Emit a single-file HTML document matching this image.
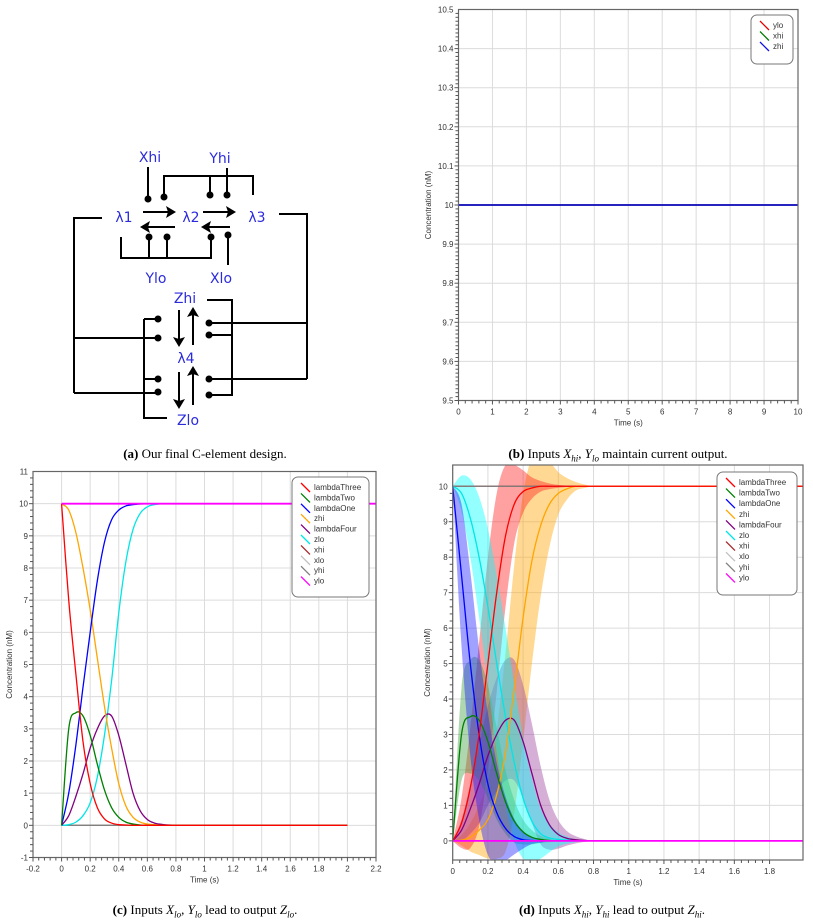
<!DOCTYPE html>
<html><head><meta charset="utf-8">
<style>
html,body{margin:0;padding:0;background:#fff;}
body{width:813px;height:919px;position:relative;overflow:hidden;font-family:"Liberation Sans",sans-serif;}
svg{position:absolute;left:0;top:0;}
.cap{position:absolute;font-family:"Liberation Serif",serif;font-size:13px;color:#000;white-space:nowrap;transform:translateX(-50%);}
</style></head>
<body>
<svg id="root" width="813" height="919" viewBox="0 0 813 919">
<g id="diagram" stroke="#000" stroke-width="2" fill="none">
  <path d="M148,167V198"/>
  <path d="M164,197V176H253V195"/>
  <path d="M210,176V195"/>
  <path d="M227,168V195"/>
  <path d="M121,237V258H211V237"/>
  <path d="M149,237V258M167,237V258"/>
  <path d="M228,237V265"/>
  <path d="M102,218H74V393"/>
  <path d="M279,214H307V379"/>
  <path d="M74,338H158M74,393H158"/>
  <path d="M144,319H158M144,319V418H167M144,379H158"/>
  <path d="M207,300H232V395H209M209,335H232"/>
  <path d="M209,323H307M209,379H307"/>
  <path d="M143,212H170M175,227H146M203,212H230M230,227H207"/>
  <path d="M179,310V340M193,345V313M179,372V402M193,405V372"/>
  <g fill="#000" stroke="none">
    <path d="M176,212L166,206L168,212L166,218Z"/>
    <path d="M140,227L150,221L148,227L150,233Z"/>
    <path d="M236,212L226,206L228,212L226,218Z"/>
    <path d="M201,227L211,221L209,227L211,233Z"/>
    <path d="M179,347L173,337L179,339L185,337Z"/>
    <path d="M193,307L187,317L193,315L199,317Z"/>
    <path d="M179,409L173,399L179,401L185,399Z"/>
    <path d="M193,366L187,376L193,374L199,376Z"/>
    <circle cx="148" cy="199" r="3.5"/><circle cx="164" cy="197" r="3.5"/>
    <circle cx="210" cy="195" r="3.5"/><circle cx="227" cy="195" r="3.5"/>
    <circle cx="149" cy="237" r="3.5"/><circle cx="167" cy="237" r="3.5"/>
    <circle cx="211" cy="237" r="3.5"/><circle cx="228" cy="235" r="3.5"/>
    <circle cx="158" cy="319" r="3.5"/><circle cx="158" cy="338" r="3.5"/>
    <circle cx="158" cy="379" r="3.5"/><circle cx="158" cy="392" r="3.5"/>
    <circle cx="209" cy="323" r="3.5"/><circle cx="209" cy="335" r="3.5"/>
    <circle cx="209" cy="379" r="3.5"/><circle cx="209" cy="395" r="3.5"/>
  </g>
  <g fill="#2b2bdc" stroke="none" font-family="'DejaVu Sans',sans-serif" font-size="14" text-anchor="middle">
    <text x="150" y="162">Xhi</text>
    <text x="220" y="163">Yhi</text>
    <text x="124" y="222">λ1</text>
    <text x="191" y="222">λ2</text>
    <text x="257" y="222">λ3</text>
    <text x="156" y="283">Ylo</text>
    <text x="221" y="283">Xlo</text>
    <text x="185" y="303">Zhi</text>
    <text x="186" y="363">λ4</text>
    <text x="188" y="425">Zlo</text>
  </g>
</g>
</svg>
<div class="cap" style="left:205px;top:446px"><b>(a)</b> Our final C-element design.</div>
<div class="cap" style="left:618px;top:446px"><b>(b)</b> Inputs <i>X<sub style="font-size:9px">hi</sub></i>, <i>Y<sub style="font-size:9px">lo</sub></i> maintain current output.</div>
<div class="cap" style="left:205px;top:902px"><b>(c)</b> Inputs <i>X<sub style="font-size:9px">lo</sub></i>, <i>Y<sub style="font-size:9px">lo</sub></i> lead to output <i>Z<sub style="font-size:9px">lo</sub></i>.</div>
<div class="cap" style="left:612px;top:902px"><b>(d)</b> Inputs <i>X<sub style="font-size:9px">hi</sub></i>, <i>Y<sub style="font-size:9px">hi</sub></i> lead to output <i>Z<sub style="font-size:9px">hi</sub></i>.</div>
<script>
// ---------- data ----------
const bTime = [0, 10];
const bYlo = [10, 10];
const bXhi = [10, 10];
const bZhi = [10, 10];
const bXTicks = [0,1,2,3,4,5,6,7,8,9,10];
const bYTicks = [9.5,9.6,9.7,9.8,9.9,10,10.1,10.2,10.3,10.4,10.5];

const cTime = [0,0.05,0.1,0.15,0.2,0.25,0.3,0.35,0.4,0.45,0.5,0.55,0.6,0.65,0.7,0.75,0.8,0.9,2];
const cLambdaThree = [10,7.0,4.7,2.6,1.3,0.55,0.2,0.07,0.02,0.01,0,0,0,0,0,0,0,0,0];
const cLambdaTwo = [0,3.0,3.5,3.4,2.8,1.9,1.1,0.55,0.25,0.1,0.04,0.01,0,0,0,0,0,0,0];
const cLambdaOne = [0,1.0,2.5,4.3,6.0,7.6,8.8,9.5,9.8,9.93,9.97,9.99,10,10,10,10,10,10,10];
const cZhi = [10,9.8,9.1,8.0,6.7,5.2,3.7,2.4,1.3,0.6,0.25,0.1,0.04,0.02,0,0,0,0,0];
const cLambdaFour = [0,0.3,0.9,1.6,2.4,3.0,3.4,3.4,2.8,1.9,1.0,0.45,0.18,0.07,0.03,0.01,0,0,0];
const cZlo = [0,0.02,0.1,0.3,0.7,1.5,2.8,4.5,6.6,8.2,9.2,9.7,9.9,9.97,10,10,10,10,10];
const cXhi = [0,0]; const cXlo = [0,0]; const cYhi = [0,0]; const cYlo = [10,10];
const cFlatTime = [0,2]; const cYloTime = [0,2.2];
const cXTicks = [-0.2,0,0.2,0.4,0.6,0.8,1,1.2,1.4,1.6,1.8,2,2.2];
const cYTicks = [-1,0,1,2,3,4,5,6,7,8,9,10,11];

const dTime = [0,0.05,0.1,0.15,0.2,0.25,0.3,0.35,0.4,0.45,0.5,0.55,0.6,0.65,0.7,0.75,0.8,0.9,2];
const dLambdaThree = [0,0.5,1.5,3.0,5.0,7.0,8.6,9.5,9.85,9.95,10,10,10,10,10,10,10,10,10];
const dLambdaThreeSpread = [0,0.7,1.7,2.6,3.0,2.8,2.0,1.1,0.6,0.3,0.15,0.08,0.04,0.02,0,0,0,0,0];
const dLambdaTwo = [0,3.0,3.5,3.4,2.8,1.9,1.1,0.55,0.25,0.1,0.04,0.01,0,0,0,0,0,0,0];
const dLambdaTwoSpread = [0,1.3,1.6,1.7,1.6,1.3,0.9,0.6,0.35,0.2,0.1,0.05,0,0,0,0,0,0,0];
const dLambdaOne = [10,7.5,5.0,3.0,1.6,0.8,0.35,0.12,0.03,0.01,0,0,0,0,0,0,0,0,0];
const dLambdaOneSpread = [0,2.0,2.6,2.4,2.0,1.4,0.9,0.5,0.25,0.1,0.05,0,0,0,0,0,0,0,0];
const dZhi = [0,0.02,0.1,0.3,0.6,1.3,2.5,4.3,6.3,7.9,8.9,9.5,9.8,9.93,10,10,10,10,10];
const dZhiSpread = [0,0.15,0.4,0.7,1.1,1.8,2.8,3.5,3.5,2.9,2.0,1.2,0.6,0.3,0.12,0.05,0,0,0];
const dLambdaFour = [0,0.3,0.9,1.6,2.4,3.0,3.4,3.4,2.8,1.9,1.0,0.45,0.18,0.07,0.03,0.01,0,0,0];
const dLambdaFourSpread = [0,0.3,0.7,1.1,1.4,1.6,1.7,1.7,1.6,1.4,1.1,0.7,0.4,0.2,0.1,0.04,0,0,0];
const dZlo = [10,9.8,9.1,8.0,6.6,5.0,3.5,2.2,1.2,0.55,0.2,0.08,0.04,0.02,0,0,0,0,0];
const dZloSpread = [0,0.5,1.1,1.7,2.2,2.5,2.5,2.2,1.7,1.2,0.7,0.4,0.2,0.1,0.04,0,0,0,0];
const dXhi = [10,10]; const dXlo = [10,10]; const dYhi = [0,0]; const dYlo = [0,0];
const dFlatTime = [0,2];
const dXTicks = [0,0.2,0.4,0.6,0.8,1,1.2,1.4,1.6,1.8];
const dYTicks = [0,1,2,3,4,5,6,7,8,9,10];

// ---------- helpers ----------
const NS = 'http://www.w3.org/2000/svg';
const root = document.getElementById('root');
function mk(tag, attrs, parent){
  const e = document.createElementNS(NS, tag);
  for (const k in attrs) e.setAttribute(k, attrs[k]);
  (parent||root).appendChild(e);
  return e;
}
function smoothPath(pts){
  if (pts.length < 3) return 'M' + pts.map(p=>p[0].toFixed(2)+','+p[1].toFixed(2)).join('L');
  let d = 'M' + pts[0][0].toFixed(2) + ',' + pts[0][1].toFixed(2);
  for (let i=0;i<pts.length-1;i++){
    const p0 = pts[Math.max(0,i-1)], p1 = pts[i], p2 = pts[i+1], p3 = pts[Math.min(pts.length-1,i+2)];
    const c1x = p1[0] + (p2[0]-p0[0])/6, c1y = p1[1] + (p2[1]-p0[1])/6;
    const c2x = p2[0] - (p3[0]-p1[0])/6, c2y = p2[1] - (p3[1]-p1[1])/6;
    d += 'C'+c1x.toFixed(2)+','+c1y.toFixed(2)+' '+c2x.toFixed(2)+','+c2y.toFixed(2)+' '+p2[0].toFixed(2)+','+p2[1].toFixed(2);
  }
  return d;
}
function makeChart(cfg){
  const g = mk('g', {});
  
  
  const sx = v => cfg.L + (v - cfg.xmin) / (cfg.xmax - cfg.xmin) * (cfg.R - cfg.L);
  const sy = v => cfg.B - (v - cfg.ymin) / (cfg.ymax - cfg.ymin) * (cfg.B - cfg.T);
  cfg.xTicks.forEach(v=>{
    const l = mk('line',{x1:sx(v),x2:sx(v),y1:cfg.T,y2:cfg.B,stroke:'#dcdcdc','stroke-width':1},g);
    
    
  });
  cfg.yTicks.forEach(v=>{
    const l = mk('line',{x1:cfg.L,x2:cfg.R,y1:sy(v),y2:sy(v),stroke:'#dcdcdc','stroke-width':1},g);
    
    
  });
  const cid = cfg.name + '-clip';
  const defs = mk('defs',{},g);
  const cp = mk('clipPath',{id:cid},defs);
  mk('rect',{x:cfg.L,y:cfg.T,width:cfg.R-cfg.L,height:cfg.B-cfg.T},cp);
  const plot = mk('g',{'clip-path':'url(#'+cid+')'},g);
  
  
  (cfg.bands||[]).forEach(b=>{
    const up = b.t.map((t,i)=>[sx(t), sy(b.v[i]+b.s[i])]);
    const lo = b.t.map((t,i)=>[sx(t), sy(b.v[i]-b.s[i])]).reverse();
    let d = smoothPath(up) + 'L' + smoothPath(lo).slice(1) + 'Z';
    const p = mk('path',{d:d,fill:b.color,'fill-opacity':0.42,stroke:'none'},plot);
    
    
  });
  cfg.series.forEach(s=>{
    const pts = s.t.map((t,i)=>[sx(t), sy(s.v[i])]);
    const p = mk('path',{d:smoothPath(pts),fill:'none',stroke:s.color,'stroke-width':s.w||1.3},plot);
    
    
  });
  const fr = mk('rect',{x:cfg.L,y:cfg.T,width:cfg.R-cfg.L,height:cfg.B-cfg.T,fill:'none',stroke:'#666','stroke-width':1.2},g);
  
  
  const xm = cfg.xTicks, ym = cfg.yTicks;
  const nx = 5, ny = cfg.yMinor || 5;
  for (let i=0;i<xm.length-1;i++) for (let k=0;k<nx;k++){
    const v = xm[i] + (xm[i+1]-xm[i])*k/nx;
    mk('line',{x1:sx(v),x2:sx(v),y1:cfg.B,y2:cfg.B+(k==0?4:3),stroke:'#555','stroke-width':1},g);
  }
  mk('line',{x1:sx(xm[xm.length-1]),x2:sx(xm[xm.length-1]),y1:cfg.B,y2:cfg.B+4,stroke:'#555'},g);
  for (let i=0;i<ym.length-1;i++) for (let k=0;k<ny;k++){
    const v = ym[i] + (ym[i+1]-ym[i])*k/ny;
    mk('line',{x1:cfg.L-(k==0?4:3),x2:cfg.L,y1:sy(v),y2:sy(v),stroke:'#555','stroke-width':1},g);
  }
  xm.forEach(v=>{
    const t = mk('text',{x:sx(v),y:cfg.B+14,'font-size':8,'text-anchor':'middle',fill:'#333'},g);
    t.textContent = String(v);
    
    
  });
  ym.forEach(v=>{
    const t = mk('text',{x:cfg.L-5,y:sy(v)+3,'font-size':8,'text-anchor':'end',fill:'#333'},g);
    t.textContent = String(v);
    
    
  });
  const xt = mk('text',{x:(cfg.L+cfg.R)/2,y:cfg.B+25,'font-size':8,'text-anchor':'middle',fill:'#333'},g);
  xt.textContent = 'Time (s)';
  
  
  const yx = cfg.yTitleX, yy = (cfg.T+cfg.B)/2;
  const yt = mk('text',{x:yx,y:yy,'font-size':8,'text-anchor':'middle',fill:'#333',transform:'rotate(-90 '+yx+' '+yy+')'},g);
  yt.textContent = 'Concentration (nM)';
  
  
  const lg = mk('g',{},g);
  
  
  const Lg = cfg.legend;
  mk('rect',{x:Lg.x,y:Lg.y,width:Lg.w,height:Lg.h,rx:6,fill:'#fff',stroke:'#777','stroke-width':1},lg);
  Lg.items.forEach((it,i)=>{
    const yy2 = Lg.y + 10 + i*Lg.step;
    mk('line',{x1:Lg.x+9,y1:yy2-4,x2:Lg.x+18,y2:yy2+5,stroke:it.color,'stroke-width':1.3},lg);
    const t = mk('text',{x:Lg.x+22,y:yy2+3,'font-size':8,fill:'#333'},lg);
    t.textContent = it.name;
    
    
  });
}

makeChart({name:'chart-b',L:458.5,R:798,T:9.5,B:400.5,xmin:0,xmax:10,ymin:9.5,ymax:10.5,
  xTicks:bXTicks,yTicks:bYTicks,yTitleX:431,yMinor:10,
  series:[{name:'ylo',t:bTime,v:bYlo,color:'#e00000'},{name:'xhi',t:bTime,v:bXhi,color:'#007a00'},{name:'zhi',t:bTime,v:bZhi,color:'#1010c8',w:1.8}],
  legend:{x:751,y:15,w:42,h:49,step:10.5,items:[{name:'ylo',color:'#e00000'},{name:'xhi',color:'#007a00'},{name:'zhi',color:'#1010e0'}]}});

const legItems = [
  {name:'lambdaThree',color:'#ff0000'},{name:'lambdaTwo',color:'#008000'},{name:'lambdaOne',color:'#0000ff'},
  {name:'zhi',color:'#ffa500'},{name:'lambdaFour',color:'#800080'},{name:'zlo',color:'#00e5e5'},
  {name:'xhi',color:'#a52a2a'},{name:'xlo',color:'#c0c0c0'},{name:'yhi',color:'#808080'},{name:'ylo',color:'#ff00ff'}];

makeChart({name:'chart-c',L:33,R:376,T:471.5,B:857.5,xmin:-0.2,xmax:2.2,ymin:-1,ymax:11,
  xTicks:cXTicks,yTicks:cYTicks,yTitleX:12,
  series:[
    {name:'xhi',t:cFlatTime,v:cXhi,color:'#a52a2a'},{name:'xlo',t:cFlatTime,v:cXlo,color:'#c0c0c0'},{name:'yhi',t:cFlatTime,v:cYhi,color:'#808080'},
    {name:'zlo',t:cTime,v:cZlo,color:'#00e5e5'},{name:'lambda-four',t:cTime,v:cLambdaFour,color:'#800080'},
    {name:'zhi',t:cTime,v:cZhi,color:'#ffa500'},{name:'lambda-one',t:cTime,v:cLambdaOne,color:'#0000ff'},
    {name:'lambda-two',t:cTime,v:cLambdaTwo,color:'#008000'},{name:'lambda-three',t:cTime,v:cLambdaThree,color:'#ff0000'},
    {name:'ylo',t:cYloTime,v:cYlo,color:'#ff00ff',w:1.8}],
  legend:{x:292,y:477,w:77,h:120,step:10.4,items:legItems}});

makeChart({name:'chart-d',L:452.7,R:803,T:465,B:860,xmin:0,xmax:1.99,ymin:-0.54,ymax:10.6,
  xTicks:dXTicks,yTicks:dYTicks,yTitleX:430,
  bands:[
    {name:'zhi',t:dTime,v:dZhi,s:dZhiSpread,color:'#ffa500'},
    {name:'lambda-three',t:dTime,v:dLambdaThree,s:dLambdaThreeSpread,color:'#ff2020'},
    {name:'lambda-four',t:dTime,v:dLambdaFour,s:dLambdaFourSpread,color:'#9a409a'},
    {name:'lambda-two',t:dTime,v:dLambdaTwo,s:dLambdaTwoSpread,color:'#40a040'},
    {name:'zlo',t:dTime,v:dZlo,s:dZloSpread,color:'#00ffff'},
    {name:'lambda-one',t:dTime,v:dLambdaOne,s:dLambdaOneSpread,color:'#2020ff'}],
  series:[
    {name:'xhi',t:dFlatTime,v:dXhi,color:'#a52a2a'},{name:'xlo',t:dFlatTime,v:dXlo,color:'#808080'},{name:'yhi',t:dFlatTime,v:dYhi,color:'#808080'},
    {name:'zlo',t:dTime,v:dZlo,color:'#00e5e5'},{name:'lambda-four',t:dTime,v:dLambdaFour,color:'#800080'},
    {name:'zhi',t:dTime,v:dZhi,color:'#ffa500'},{name:'lambda-one',t:dTime,v:dLambdaOne,color:'#0000ff'},
    {name:'lambda-two',t:dTime,v:dLambdaTwo,color:'#008000'},{name:'lambda-three',t:dTime,v:dLambdaThree,color:'#ff0000'},
    {name:'ylo',t:dFlatTime,v:dYlo,color:'#ff00ff',w:1.8}],
  legend:{x:717,y:472,w:80,h:123,step:10.6,items:legItems}});
</script>
</body></html>
